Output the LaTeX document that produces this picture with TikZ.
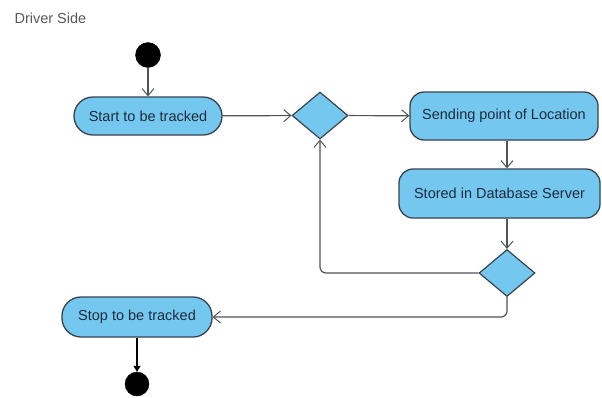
\documentclass[tikz,border=0pt]{standalone}
\usepackage{fontspec}
\setmainfont{Liberation Sans}
\usetikzlibrary{arrows.meta,shapes.geometric}
\definecolor{actfill}{RGB}{116,200,240}
\definecolor{actline}{RGB}{58,66,76}
\definecolor{flowline}{RGB}{80,84,88}
\definecolor{acttext}{RGB}{30,42,60}
\tikzset{
  activity/.style={draw=actline, fill=actfill, line width=1.3pt, text=acttext,
    font=\fontsize{14.5}{16}\selectfont, inner sep=0pt, align=center},
  pill/.style={activity, rectangle, rounded corners=19pt},
  action/.style={activity, rectangle, rounded corners=14pt},
  decision/.style={draw=actline, fill=actfill, line width=1.2pt, diamond, inner sep=0pt,
    minimum width=56pt, minimum height=47pt},
  initial/.style={circle, fill=black, draw=black, inner sep=0pt, minimum size=25pt},
  flow/.style={draw=flowline, line width=1.2pt, rounded corners=6pt,
    -{Straight Barb[length=7pt,width=12pt,line width=1pt]}},
  endflow/.style={draw=black, line width=1.2pt, -{Triangle[length=6pt,width=7pt]}},
}
\begin{document}
\begin{tikzpicture}[x=1pt,y=-1pt]
  \useasboundingbox (0,0) rectangle (602,397);
  \fill[white] (0,0) rectangle (602,397);

  \node[anchor=west, text=black!65, font=\fontsize{14.5}{16}\selectfont] (title) at (11,18) {Driver Side};

  \node[initial] (start) at (148,55) {};
  \node[pill, minimum width=148pt, minimum height=38pt] (track) at (148,116) {Start to be tracked};
  \node[decision] (d1) at (320,115.5) {};
  \node[action, minimum width=188pt, minimum height=48pt] (send) at (504,116) {Sending point of Location};
  \node[action, minimum width=201pt, minimum height=49pt] (store) at (499.5,193.5) {Stored in Database Server};
  \node[decision] (d2) at (507,273) {};
  \node[pill, minimum width=150pt, minimum height=40pt] (stop) at (137,317) {Stop to be tracked};
  \node[initial, minimum size=24pt] (finish) at (137,384) {};

  \draw[flow] (start) -- (track);
  \draw[flow] (track) -- (d1);
  \draw[flow] (d1) -- (send);
  \draw[flow] (send.south -| d2) -- (store.north -| d2);
  \draw[flow] (store.south -| d2) -- (d2);
  \draw[flow] (d2.west) -| (d1.south);
  \draw[flow] (d2.south) |- (stop.east);
  \draw[endflow] (stop) -- (finish);
\end{tikzpicture}
\end{document}
